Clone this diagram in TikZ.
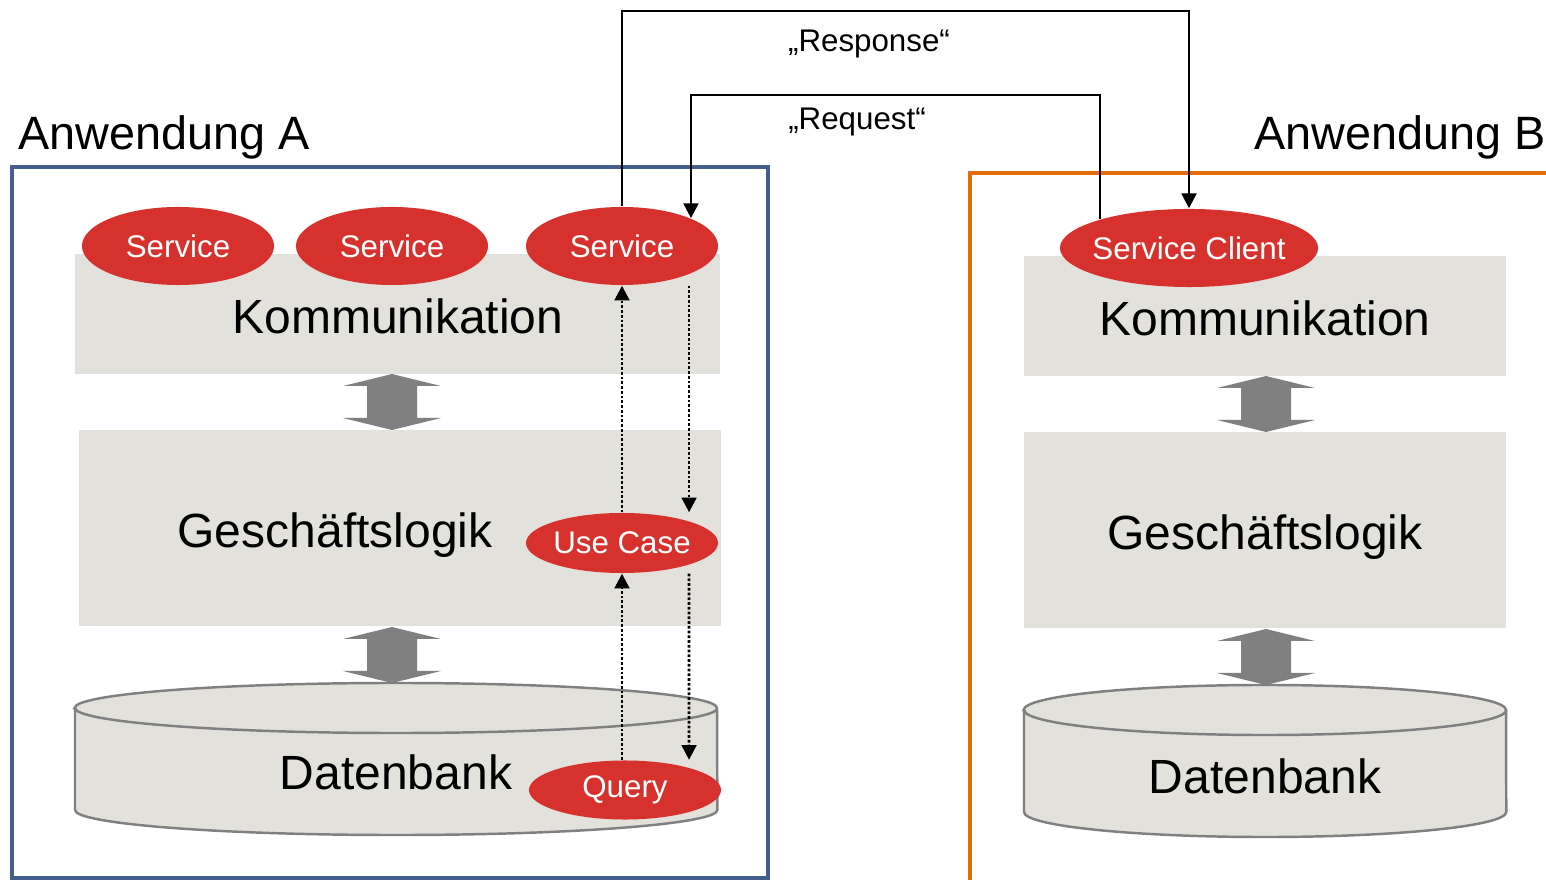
\documentclass[tikz,border=0pt]{standalone}
\usepackage{fontspec}
\setmainfont{Liberation Sans}
\usetikzlibrary{shapes.geometric,arrows.meta}
\definecolor{frameblue}{HTML}{445F8C}
\definecolor{frameorange}{HTML}{E46C0A}
\definecolor{svcred}{HTML}{D7312E}
\definecolor{layergray}{HTML}{E2E1DC}
\definecolor{arrowgray}{HTML}{808080}
\providecommand{\titlesize}{\fontsize{13.3pt}{16pt}\selectfont}
\providecommand{\layersize}{\fontsize{13.65pt}{16pt}\selectfont}
\providecommand{\labelsize}{\fontsize{8.9pt}{11pt}\selectfont}
% block arrow between two layers: centre x, top y
\providecommand{\layerarrow}[2]{\fill[arrowgray,shift={(#1,#2)}] (0,0) -- (49,12) -- (25,12) -- (25,44) -- (49,44) -- (0,56) -- (-49,44) -- (-25,44) -- (-25,12) -- (-49,12) -- cycle;}
% database drum: left x, right x, top y, bottom y
\providecommand{\dbdrum}[4]{%
  \pgfmathsetmacro{\drumrx}{(#2-#1)/200}
  \filldraw[db] (#1,#3) -- (#1,#4) arc[start angle=180,end angle=360,x radius=\drumrx cm,y radius=0.25cm] -- (#2,#3) arc[start angle=0,end angle=180,x radius=\drumrx cm,y radius=0.25cm] -- cycle;
  \draw[db,fill=none] (#1,#3) arc[start angle=180,end angle=360,x radius=\drumrx cm,y radius=0.25cm];}

\begin{document}
\begin{tikzpicture}[x=0.01cm,y=-0.01cm,
    layer/.style={fill=layergray,inner sep=0},
    svc/.style={ellipse,fill=svcred,text=white,inner xsep=-0.15cm,inner ysep=0,minimum width=1.92cm,minimum height=0.78cm,font=\labelsize},
    link/.style={line width=0.75pt,-{Triangle[width=4.2pt,length=4.2pt]}},
    flow/.style={link,dash pattern=on 0.75pt off 0.6pt},
    db/.style={fill=layergray,draw=arrowgray,line width=0.7pt}]
    \useasboundingbox (0,0) rectangle (1546,880);

    % frames
    \draw[frameblue,line width=1.1pt] (12,167) rectangle (768,878);
    \draw[frameorange,line width=1.1pt] (970,885) -- (970,173) -- (1550,173);
    \node[font=\titlesize,anchor=base west,inner sep=0] (titleA) at (18,150) {Anwendung A};
    \node[font=\titlesize,anchor=base east,inner sep=0] (titleB) at (1546,150) {Anwendung B};

    % Anwendung A
    \node[layer,minimum width=6.45cm,minimum height=1.2cm] (kommA) at (397.5,314) {};
    \node[layer,minimum width=6.42cm,minimum height=1.96cm] (logikA) at (400,528) {};
    \layerarrow{392}{374}
    \layerarrow{392}{627}
    \dbdrum{75}{717}{708}{810}
    \node[font=\layersize,anchor=base] (kommAtext) at (398,334) {Kommunikation};
    \node[font=\layersize,anchor=base] (logikAtext) at (335,548) {Geschäftslogik};
    \node[font=\layersize,anchor=base] (dbAtext) at (396,790) {Datenbank};

    % Anwendung B
    \node[layer,minimum width=4.82cm,minimum height=1.2cm] (kommB) at (1265,316) {};
    \node[layer,minimum width=4.82cm,minimum height=1.96cm] (logikB) at (1265,530) {};
    \layerarrow{1266}{376}
    \layerarrow{1266}{629}
    \dbdrum{1024}{1506}{710}{812}
    \node[font=\layersize,anchor=base] (kommBtext) at (1265,336) {Kommunikation};
    \node[font=\layersize,anchor=base] (logikBtext) at (1265,550) {Geschäftslogik};
    \node[font=\layersize,anchor=base] (dbBtext) at (1265,793) {Datenbank};

    % services
    \node[svc] (svcA) at (178,246) {Service};
    \node[svc] (svcB) at (392,246) {Service};
    \node[svc] (svcC) at (622,246) {Service};
    \node[svc,minimum height=0.6cm] (usecase) at (622,543) {Use Case};
    \node[svc,minimum height=0.59cm] (query) at (625,790) {Query};
    \node[svc,minimum width=2.58cm] (client) at (1189,248) {Service Client};

    % request / response
    \coordinate (resp) at (900,11);
    \coordinate (req) at (900,95);
    \draw[link] (svcC.north) |- (resp) -| (client.north);
    \draw[link] (client.162.7) |- (req) -| (svcC.22.7);
    \node[font=\labelsize,anchor=base] (resplabel) at (869,52) {„Response“};
    \node[font=\labelsize,anchor=base] (reqlabel) at (857,130) {„Request“};

    % internal calls
    \draw[flow] (usecase.south |- query.north) -- (usecase.south);
    \draw[flow] (usecase.north) -- (svcC.south);
    \draw[flow] ([xshift=0.67cm]svcC.south) -- ([xshift=0.67cm]usecase.north);
    \draw[flow] ([xshift=0.67cm]usecase.south) -- ([xshift=0.64cm]query.north);
\end{tikzpicture}
\end{document}
